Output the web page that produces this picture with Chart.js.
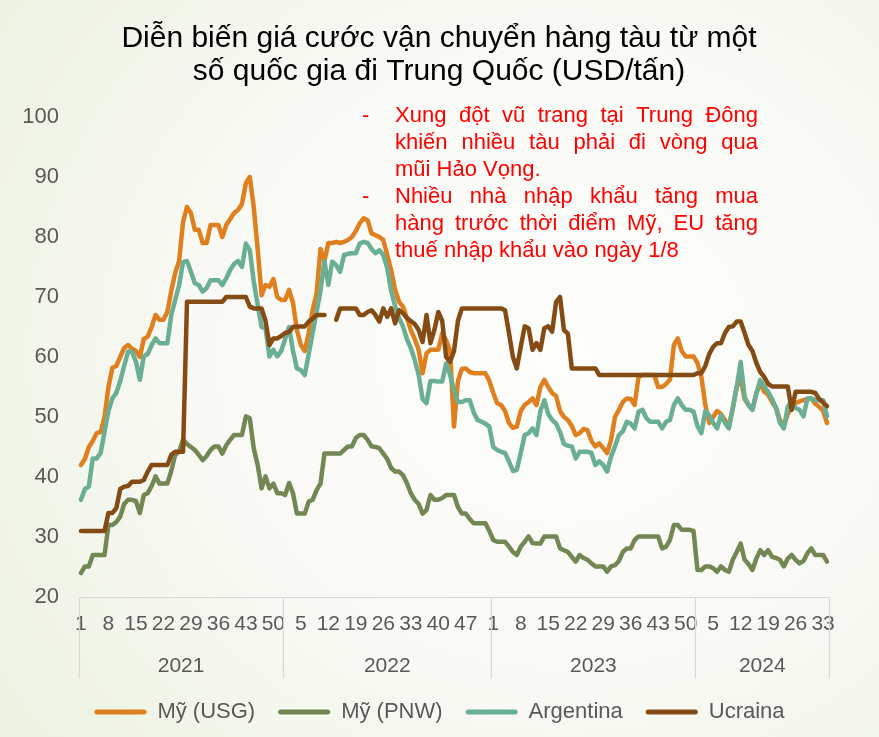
<!DOCTYPE html>
<html lang="vi">
<head>
<meta charset="utf-8">
<title>Giá cước vận chuyển hàng tàu đi Trung Quốc</title>
<script src="https://cdn.jsdelivr.net/npm/chart.js@4.4.1/dist/chart.umd.min.js"></script>
<style>
  html, body { margin: 0; padding: 0; }
  body {
    width: 879px; height: 737px; overflow: hidden;
    background: radial-gradient(ellipse 78% 85% at 64% 48%, #fdfdfb 0%, #f9faf5 50%, #edf2e2 100%);
  }
  canvas { display: block; }
</style>
</head>
<body>
<canvas id="chart" width="879" height="737"></canvas>
<script>
// Weekly freight rates to China, USD/tonne
const years = [2021, 2022, 2023, 2024]
const weeksPerYear = [52, 53, 52, 34]
const tickEvery = 7

// Mỹ (USG)
const usg = [
  // 2021
  42, 43, 45, 46, 47.3, 47.5, 50, 55, 58.2, 58.5, 60, 61.5, 62, 61.4, 61, 60, 63, 63.4, 65, 67,
  66.2, 66.2, 67.5, 71, 74, 76, 82.5, 85, 84, 81.2, 81.2, 79, 79, 82, 82, 82, 80, 82, 83, 84,
  84.5, 85.5, 89, 90, 85, 78, 70.3, 72, 71.7, 73, 70, 69.5,
  // 2022
  69.5, 71.2, 69, 64.5, 62, 61, 64, 67.8, 70.6, 78, 76, 79, 79, 79.2, 79, 79.2, 79.5, 80, 81, 82.3,
  83.1, 82.8, 80.6, 80.3, 80, 79.5, 77, 74.5, 71.2, 69.2, 68.4, 66.5, 64.5, 63, 61.2, 57.3, 60.6, 61.2, 61.2, 61.2,
  64, 62.8, 61, 48.4, 56, 58, 58.1, 57.5, 57.3, 57.3, 57.3, 57.3, 56,
  // 2023
  54, 52.3, 52, 51, 49, 48.2, 48.4, 51, 52, 52.5, 53.1, 52, 55, 56.2, 55, 54, 53.5, 51, 50, 49.5,
  48.5, 47, 47.3, 48, 47.8, 46, 45.1, 45.6, 44.8, 44, 46.2, 50, 51.2, 52.5, 53.1, 53, 52, 56.7, 57, 57,
  57, 57, 55, 55, 55.5, 56.2, 62, 63.1, 61, 60.1, 60.1, 60.1,
  // 2024
  59, 56.7, 52, 49, 50, 51, 50.5, 49.5, 48.4, 51.5, 55, 56.5, 53, 52, 51.2, 54, 55.6, 54.2, 53.7, 52.5,
  51.5, 49.5, 48.4, 50.5, 51.5, 52.3, 52.6, 52.8, 53, 53.1, 52.2, 51.7, 51, 49
]

// Mỹ (PNW)
const pnw = [
  // 2021
  24, 25.1, 25.1, 27, 27, 27, 27, 32, 32, 32.5, 33.4, 35.5, 36.2, 36.2, 36, 34, 37, 37.3, 38.5, 40.1,
  38.9, 38.9, 38.9, 41, 43.7, 44.2, 46.2, 45.5, 45, 44.5, 43.7, 42.8, 43.5, 44.5, 45.1, 45.1, 43.9, 45.3, 46.2, 47,
  47, 47, 50.1, 49.8, 44.8, 42, 38.1, 40.1, 38.1, 38.9, 37.3, 37.3,
  // 2022
  37, 39, 37.3, 33.9, 33.9, 33.9, 35.9, 36.2, 37.8, 38.9, 43.9, 43.9, 43.9, 43.9, 43.9, 44.5, 45.1, 45.1, 46.5, 47,
  47, 46.2, 45.1, 45, 44.8, 43.9, 43, 41.5, 40.9, 40.9, 40.3, 39, 37.3, 36.2, 35.5, 33.9, 34.5, 37, 36.2, 36.2,
  36.5, 37, 37, 37, 35, 33.9, 33.9, 33, 32.3, 32.3, 32.3, 32.3, 31,
  // 2023
  29.5, 29.2, 29.2, 29.2, 28.4, 27.5, 27, 28.4, 29.2, 30.1, 29, 28.9, 28.9, 30.1, 30.1, 30.1, 30.1, 28.1, 27.8, 27.5,
  26.7, 25.9, 27, 26.5, 26.2, 25.6, 25.1, 25.1, 25.1, 24.2, 25.1, 25.3, 26, 27.5, 28.1, 28.1, 29.5, 30.1, 30.1, 30.1,
  30.1, 30.1, 30.1, 28.1, 28.4, 29.5, 32, 32, 31.2, 31.2, 31.2, 31,
  // 2024
  24.5, 24.5, 25.1, 25.1, 24.8, 24.2, 25.1, 24.5, 24.2, 26.2, 27.5, 28.9, 26.2, 25.5, 24.5, 26.4, 27.8, 27, 27.8, 26.7,
  26.5, 26.2, 25.1, 26.4, 27, 26.2, 25.6, 26, 27.3, 28.1, 27, 27, 27, 25.9
]

// Argentina
const argentina = [
  // 2021
  36.2, 38, 38.4, 43.1, 43.1, 44, 47.5, 51, 53.1, 54, 56, 58.5, 60.9, 60.9, 59.2, 56.2, 60.1, 60.5, 62, 63.1,
  62.3, 62.3, 62.3, 67, 69.5, 72, 75.8, 76, 74.2, 72.3, 72, 70.9, 71.5, 72.8, 72.8, 72.8, 72, 73.1, 74.5, 75.5,
  76, 75, 78.9, 77.8, 72.6, 68.7, 65, 64.8, 60.1, 61.2, 60.1, 61,
  // 2022
  63, 65, 61, 58.1, 57.8, 57, 60.5, 64, 67.5, 71, 76, 72, 75.9, 75.3, 74.2, 77, 77.2, 77.3, 77.3, 78.9,
  79.2, 79, 78, 77.3, 77.8, 77, 74.8, 71, 68.5, 66.5, 65.1, 63, 61.5, 59.5, 57, 53, 52.3, 56, 56, 55.9,
  55.9, 58.9, 57, 54.5, 52.5, 52.5, 52.8, 52.8, 50.8, 49.5, 49.2, 48.9, 48.4,
  // 2023
  45, 44.5, 44.2, 44, 42.6, 41, 41.2, 44, 47, 47.3, 48.1, 47, 51, 52.8, 50.5, 49.5, 48.9, 47.5, 45.5, 45.2,
  45.1, 43.1, 44.2, 44.2, 44.2, 44, 42, 42.6, 42, 40.9, 43.4, 45.1, 47, 47.6, 49.2, 48.9, 48.1, 50.9, 51.2, 49.8,
  49.2, 49.2, 49.2, 48.1, 49.2, 49.5, 52, 53.1, 52, 51.2, 51.2, 50.9,
  // 2024
  48.5, 47.3, 51, 50.3, 49, 48.1, 50.3, 49, 48.1, 51.5, 55, 59.2, 53.4, 52, 51.2, 53.9, 56.2, 55.1, 54.2, 53,
  51.5, 49, 48.1, 51.7, 52.8, 51.5, 51.2, 50.1, 53.1, 53.1, 52.8, 52.8, 52.8, 50.1
]

// Ucraina (no quote for two weeks in 2022)
const ukraine = [
  // 2021
  31, 31, 31, 31, 31, 31, 31, 34, 34, 34.8, 38, 38.4, 38.5, 39.2, 39.2, 39.2, 39.5, 40.9, 42, 42,
  42, 42, 42, 43.7, 44.2, 44.2, 44.2, 69.2, 69.2, 69.2, 69.2, 69.2, 69.2, 69.2, 69.2, 69.2, 69.2, 70, 70, 70,
  70, 70, 70, 68.4, 68.1, 68.1, 68.1, 66, 62, 63.1, 63.1, 63.5,
  // 2022
  64, 64.2, 65, 65.1, 65.1, 65.1, 65.9, 66.4, 67, 67, 67, null, null, 66.2, 68.1, 68.1, 68.1, 68.1, 68.1, 67,
  67, 67.5, 67.8, 67, 65.9, 68.1, 66.7, 68.1, 65.6, 67.8, 67.3, 66.5, 66, 65.5, 64.5, 62.5, 67, 62.3, 64.5, 67.5,
  66, 60, 59.2, 61, 66, 68.1, 68.1, 68.1, 68.1, 68.1, 68.1, 68.1, 68.1,
  // 2023
  68.1, 68.1, 68.1, 67.8, 64, 60, 58.1, 61.7, 65.1, 64.8, 61.2, 62.3, 61.2, 64.8, 65.1, 64.2, 69.2, 70, 64.5, 63.9,
  58.1, 58.1, 58.1, 58.1, 58.1, 58.1, 58.1, 57, 57, 57, 57, 57, 57, 57, 57, 57, 57, 57, 57, 57,
  57, 57, 57, 57, 57, 57, 57, 57, 57, 57, 57, 57,
  // 2024
  57.3, 57.3, 58.5, 60.5, 61.7, 62.3, 62.3, 64, 65, 65.1, 65.9, 65.9, 64, 62, 61, 59, 57.5, 56.7, 55.5, 55.1,
  55.1, 55.1, 55.1, 55.1, 51.2, 54.2, 54.2, 54.2, 54.2, 54.2, 54, 53, 52.4, 51.8
]

const titleLines = ['Diễn biến giá cước vận chuyển hàng tàu từ một', 'số quốc gia đi Trung Quốc (USD/tấn)']
const notes = [
  ['Xung đột vũ trang tại Trung Đông', 'khiến nhiều tàu phải đi vòng qua', 'mũi Hảo Vọng.'],
  ['Nhiều nhà nhập khẩu tăng mua', 'hàng trước thời điểm Mỹ, EU tăng', 'thuế nhập khẩu vào ngày 1/8']
]

const FONT = "'Liberation Sans', Arial, sans-serif"
const GREY = '#595959'

// category labels: week number inside each year
const weekLabels = []
weeksPerYear.forEach(n => {
  for (let w = 1; w <= n; w++) weekLabels.push(String(w))
})

function series(label, data, color, order) {
  return {
    label, data, order,
    borderColor: color,
    backgroundColor: color,
    borderWidth: 4.5,
    borderCapStyle: 'round',
    borderJoinStyle: 'round',
    pointRadius: 0,
    pointHoverRadius: 0,
    tension: 0,
    spanGaps: false
  }
}

// text lines justified between two x positions
function justified(ctx, text, left, right, stretch, y) {
  const words = text.split(' ')
  if (!stretch || words.length < 2) {
    ctx.fillText(text, left, y)
    return
  }
  const used = words.reduce((s, w) => s + ctx.measureText(w).width, 0)
  const gap = (right - left - used) / (words.length - 1)
  let cx = left
  words.forEach(w => {
    ctx.fillText(w, cx, y)
    cx += ctx.measureText(w).width + gap
  })
}

const decorations = {
  id: 'decorations',
  afterDraw(chart) {
    const { ctx, chartArea, scales: { x } } = chart
    ctx.save()

    // title
    ctx.fillStyle = '#000'
    ctx.font = '30px ' + FONT
    ctx.textAlign = 'center'
    ctx.textBaseline = 'alphabetic'
    ctx.fillText(titleLines[0], 439, 47)
    ctx.fillText(titleLines[1], 439, 80)

    // red note
    ctx.fillStyle = '#ff0000'
    ctx.font = '22px ' + FONT
    ctx.textAlign = 'left'
    let lineY = 122
    notes.forEach(par => {
      ctx.fillText('-', 362, lineY)
      par.forEach((line, k) => {
        justified(ctx, line, 395, 758, k < par.length - 1, lineY)
        lineY += 27
      })
    })

    // axis line, year separators and year labels
    const half = (x.getPixelForValue(1) - x.getPixelForValue(0)) / 2
    const edges = [x.getPixelForValue(0) - half]
    let start = 0
    weeksPerYear.forEach(n => {
      start += n
      edges.push(x.getPixelForValue(start - 1) + half)
    })
    const top = Math.round(chartArea.bottom) + 0.5
    ctx.strokeStyle = '#d9d9d9'
    ctx.lineWidth = 1.2
    ctx.beginPath()
    ctx.moveTo(edges[0], top)
    ctx.lineTo(edges[edges.length - 1], top)
    edges.forEach(px => {
      const sx = Math.round(px) + 0.5
      ctx.moveTo(sx, top)
      ctx.lineTo(sx, top + 81)
    })
    ctx.stroke()

    ctx.fillStyle = GREY
    ctx.font = '21px ' + FONT
    ctx.textAlign = 'center'
    ctx.textBaseline = 'middle'
    years.forEach((yr, k) => {
      ctx.fillText(String(yr), (edges[k] + edges[k + 1]) / 2, 666)
    })
    ctx.restore()
  }
}

Chart.defaults.font.family = FONT
Chart.defaults.color = GREY

new Chart(document.getElementById('chart'), {
  type: 'line',
  data: {
    labels: weekLabels,
    datasets: [
      series('Mỹ (USG)', usg, '#e07f1e', 4),
      series('Mỹ (PNW)', pnw, '#738755', 3),
      series('Argentina', argentina, '#6aae94', 2),
      series('Ucraina', ukraine, '#844c14', 1)
    ]
  },
  options: {
    responsive: false,
    animation: false,
    layout: { padding: { top: 117, right: 0, bottom: 4, left: 0 } },
    plugins: {
      title: { display: false },
      tooltip: { enabled: false },
      legend: {
        position: 'bottom',
        labels: {
          font: { size: 22 },
          color: GREY,
          boxWidth: 52,
          boxHeight: 5,
          padding: 23,
          useBorderRadius: true,
          borderRadius: 2.5,
          sort: (a, b) => a.datasetIndex - b.datasetIndex,
          generateLabels: chart =>
            Chart.defaults.plugins.legend.labels.generateLabels(chart).map(item => ({ ...item, lineWidth: 0 }))
        }
      }
    },
    scales: {
      x: {
        offset: true,
        grid: { display: false, drawTicks: false },
        border: { display: false },
        ticks: {
          autoSkip: false,
          maxRotation: 0,
          minRotation: 0,
          padding: 15,
          font: { size: 21 },
          color: GREY,
          callback: (value, index) => (index % tickEvery === 0 ? weekLabels[index] : '')
        },
        afterFit: scale => { scale.height = 81 }
      },
      y: {
        min: 20,
        max: 100,
        grid: { display: false, drawTicks: false },
        border: { display: false },
        ticks: { stepSize: 10, padding: 20, font: { size: 22 }, color: GREY },
        afterFit: scale => { scale.width = 79 }
      },
      // empty right margin, keeps the plot 50px from the right edge
      margin: {
        position: 'right',
        grid: { display: false, drawTicks: false },
        border: { display: false },
        ticks: { display: false },
        afterFit: scale => { scale.width = 50 }
      }
    }
  },
  plugins: [decorations]
})
</script>
</body>
</html>
